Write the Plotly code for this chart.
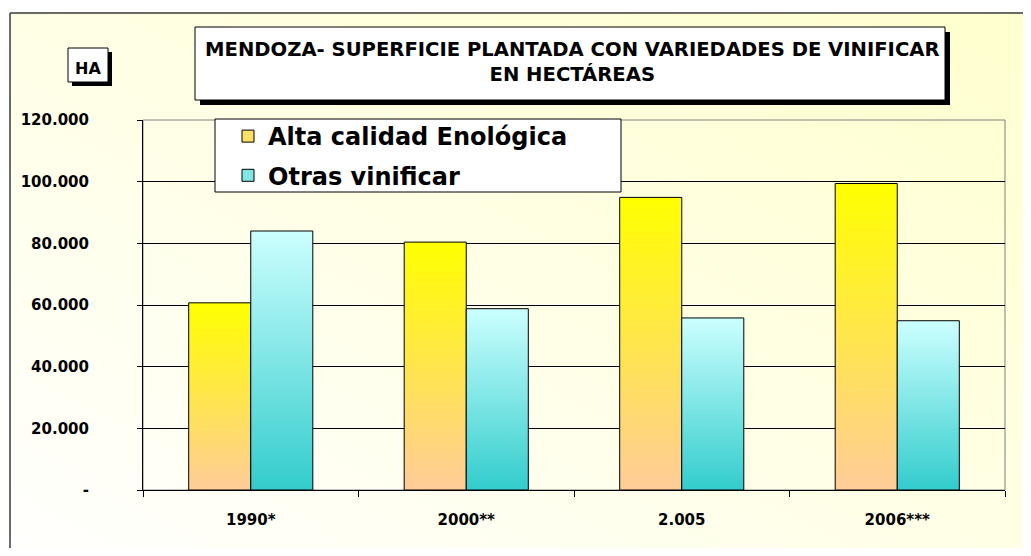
import base64
import plotly.graph_objects as go

# ---------------- data ----------------
categories = ["1990*", "2000**", "2.005", "2006***"]
alta = [60700, 80400, 94900, 99400]
otras = [84000, 58800, 55800, 54900]
series_names = ["Alta calidad Enológica", "Otras vinificar"]
y_ticks = [0, 20000, 40000, 60000, 80000, 100000, 120000]
y_tick_labels = ["-", "20.000", "40.000", "60.000", "80.000", "100.000", "120.000"]
title_text = "MENDOZA- SUPERFICIE PLANTADA CON VARIEDADES DE VINIFICAR<br>EN HECTÁREAS"
unit_text = "HA"

# ---------------- layout helpers ----------------
# page has an 8px body margin, so the figure is sized to fit the window
OFF = 8
W, H = 1031 - 2 * OFF, 556 - 2 * OFF


def px(x):
    return (x - OFF) / W


def py(y):
    return 1 - (y - OFF) / H


FONT = "DejaVu Sans"
BAR_W = 0.288
scales = [
    [[0, "#FFCC99"], [1, "#FFFF00"]],
    [[0, "#33CCCC"], [1, "#CCFFFF"]],
]
legend_colors = ["#FFE066", "#80E6E6"]

fig = go.Figure()

for s, (name, vals, cs) in enumerate(zip(series_names, [alta, otras], scales)):
    for i, v in enumerate(vals):
        x0 = i - BAR_W + s * BAR_W
        x1 = x0 + BAR_W
        fig.add_trace(go.Scatter(
            x=[x0, x0, x1, x1, x0], y=[0, v, v, 0, 0],
            mode="lines", fill="toself",
            fillgradient=dict(type="vertical", colorscale=cs),
            line=dict(color="black", width=1),
            name=name, legendgroup=name, showlegend=False,
            hoverinfo="skip",
        ))

# legend entries
for name, col in zip(series_names, legend_colors):
    fig.add_trace(go.Bar(
        x=[None], y=[None], name=name, legendgroup=name,
        marker=dict(color=col, line=dict(color="black", width=1)),
    ))

# background gradient image (paper area inside outer border)
svg = (
    '<svg xmlns="http://www.w3.org/2000/svg" width="1021" height="543" '
    'preserveAspectRatio="none"><defs><linearGradient id="g" x1="0" y1="1" '
    'x2="1" y2="0"><stop offset="0" stop-color="#FFFFFD"/>'
    '<stop offset="1" stop-color="#FFFFCE"/></linearGradient></defs>'
    '<rect width="100%" height="100%" fill="url(#g)"/></svg>'
)
src = "data:image/svg+xml;base64," + base64.b64encode(svg.encode()).decode()

shapes = [
    # outer border (left and top edges visible)
    dict(type="line", xref="paper", yref="paper", x0=px(10), x1=px(10),
         y0=0, y1=py(13), line=dict(color="#3a3a3a", width=1.5), layer="below"),
    dict(type="line", xref="paper", yref="paper", x0=px(10), x1=1,
         y0=py(13), y1=py(13), line=dict(color="#3a3a3a", width=1.5), layer="below"),
    # plot area border (right/top gray)
    dict(type="rect", xref="paper", yref="paper", x0=px(143), x1=px(1005),
         y0=py(490), y1=py(120), line=dict(color="#808080", width=1),
         fillcolor="rgba(0,0,0,0)", layer="below"),
    # title shadow & box
    dict(type="rect", xref="paper", yref="paper", x0=px(200), x1=px(950),
         y0=py(105), y1=py(32), line=dict(width=0), fillcolor="black"),
    dict(type="rect", xref="paper", yref="paper", x0=px(195), x1=px(945),
         y0=py(100), y1=py(27), line=dict(color="black", width=1),
         fillcolor="white"),
    # HA shadow & box
    dict(type="rect", xref="paper", yref="paper", x0=px(72), x1=px(112),
         y0=py(86), y1=py(52), line=dict(width=0), fillcolor="black"),
    dict(type="rect", xref="paper", yref="paper", x0=px(68), x1=px(108),
         y0=py(82), y1=py(48), line=dict(color="black", width=1),
         fillcolor="white"),
    # legend box
    dict(type="rect", xref="paper", yref="paper", x0=px(215), x1=px(621),
         y0=py(192), y1=py(119), line=dict(color="black", width=1),
         fillcolor="white", layer="above"),
]

annotations = [
    dict(text=title_text, xref="paper", yref="paper", x=px(572), y=py(62),
         xanchor="center", yanchor="middle", showarrow=False,
         font=dict(family=FONT, size=19.6, color="black", weight="bold")),
    dict(text=unit_text, xref="paper", yref="paper", x=px(88), y=py(69),
         xanchor="center", yanchor="middle", showarrow=False,
         font=dict(family=FONT, size=16, color="black", weight="bold")),
]

fig.update_layout(
    width=W, height=H, autosize=False,
    margin=dict(l=0, r=0, t=0, b=0, pad=0, autoexpand=False),
    paper_bgcolor="white", plot_bgcolor="white",
    showlegend=True,
    images=[dict(source=src, xref="paper", yref="paper", x=px(10), y=py(13),
                 sizex=1 - px(10), sizey=1 - (13 - OFF) / H, xanchor="left",
                 yanchor="top", sizing="stretch", layer="below")],
    shapes=shapes,
    annotations=annotations,
    legend=dict(x=px(228), y=py(114), xanchor="left", yanchor="top",
                bgcolor="rgba(0,0,0,0)", borderwidth=0, tracegroupgap=5,
                font=dict(family=FONT, size=24, color="black", weight="bold")),
    xaxis=dict(domain=[px(143), px(1005)], range=[-0.5, 3.5], automargin=False,
               tickmode="array", tickvals=list(range(len(categories))),
               ticktext=categories, ticks="", showgrid=False, zeroline=False,
               showline=True, linecolor="black", linewidth=1,
               ticklabelstandoff=16,
               tickfont=dict(family=FONT, size=15, color="black", weight="bold"),
               minor=dict(tickmode="linear", tick0=-0.5, dtick=1,
                          ticks="outside", ticklen=6, tickcolor="black",
                          tickwidth=1, showgrid=False)),
    yaxis=dict(domain=[py(490), py(120)], range=[0, 120000], automargin=False,
               tickmode="array", tickvals=y_ticks, ticktext=y_tick_labels,
               showgrid=True, gridcolor="black", gridwidth=1, zeroline=False,
               showline=True, linecolor="black", linewidth=1,
               ticks="outside", ticklen=5, tickcolor="black",
               ticklabelstandoff=45,
               tickfont=dict(family=FONT, size=15, color="black", weight="bold")),
)

fig.write_html("out.html", config={"displayModeBar": False})
